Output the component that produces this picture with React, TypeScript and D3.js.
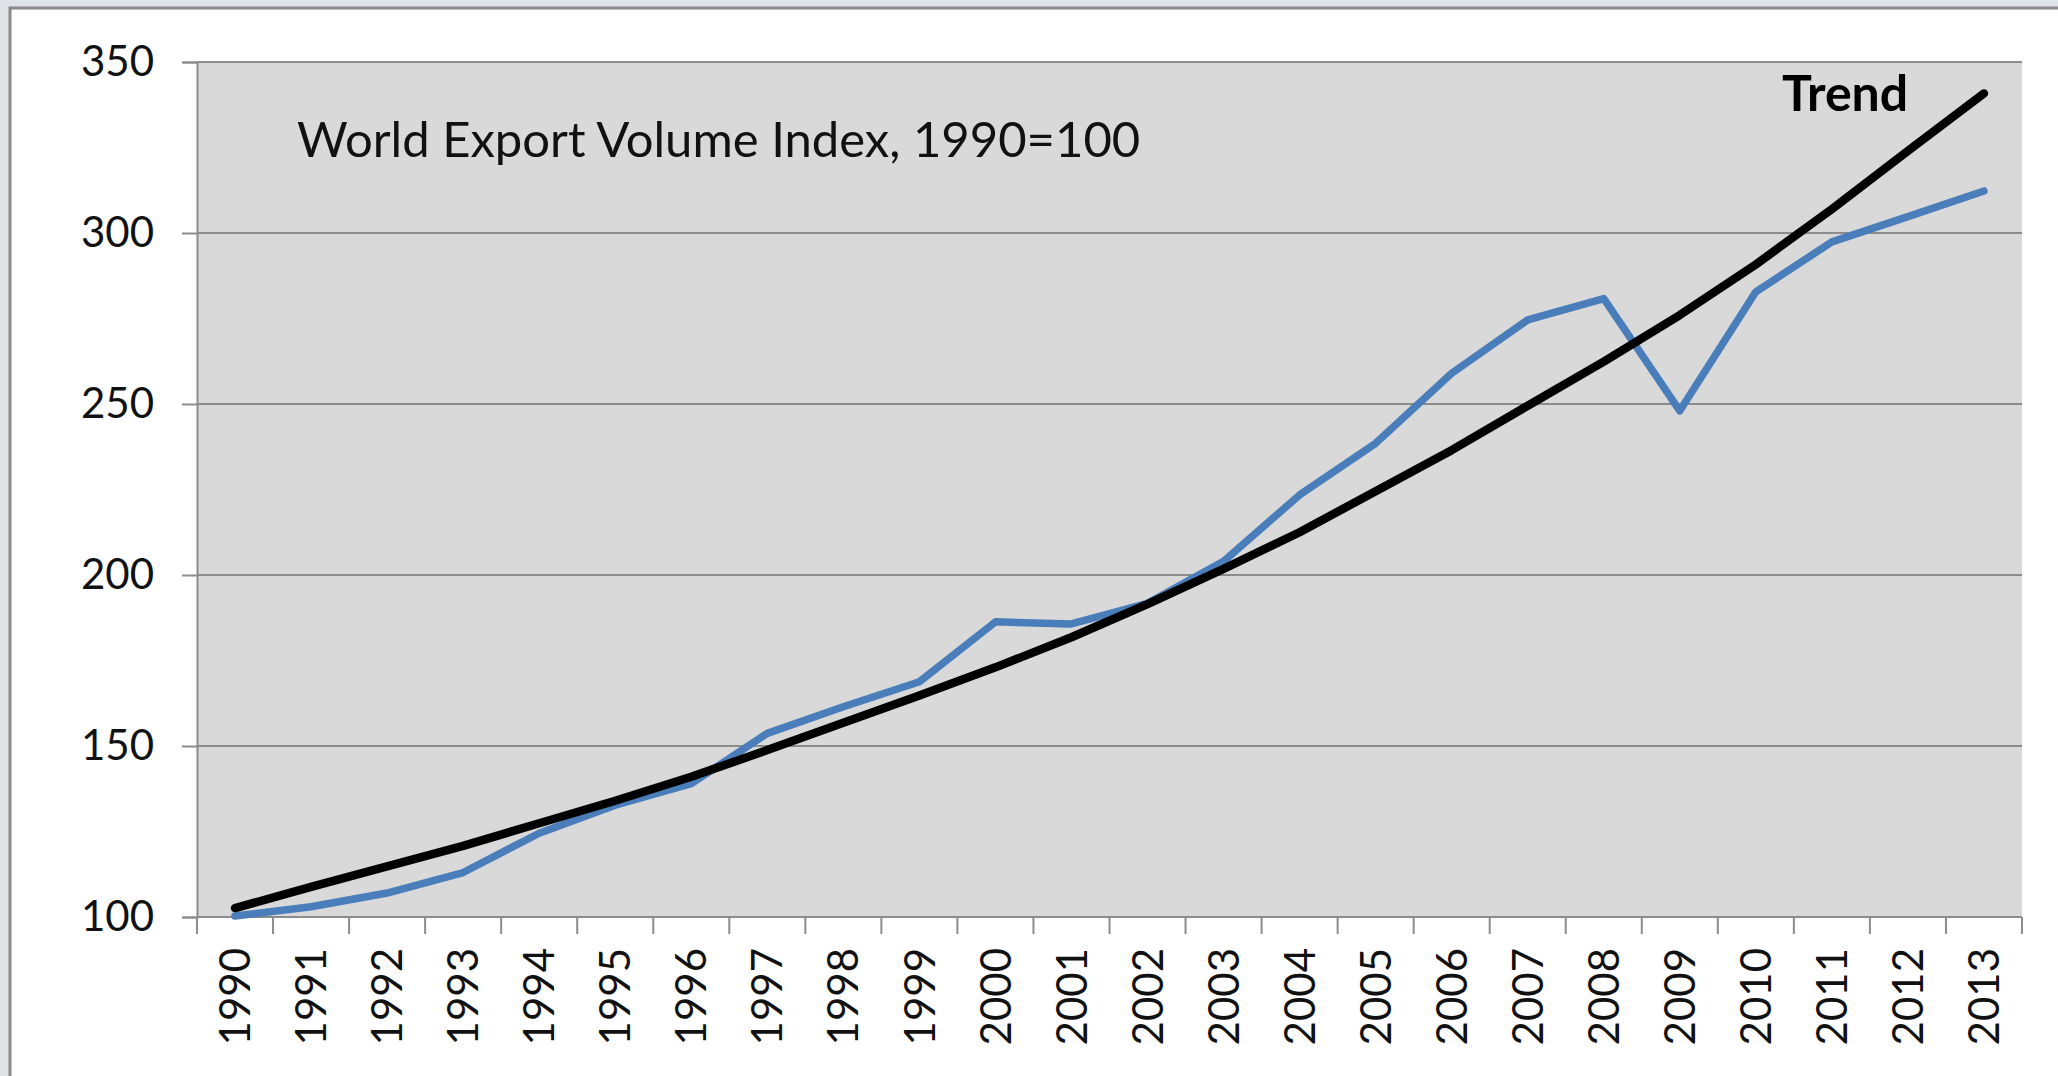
import * as d3 from 'd3';
import { useRef, useEffect } from 'react';

// --- Data ---
const years = [
  '1990', '1991', '1992', '1993', '1994', '1995', '1996', '1997',
  '1998', '1999', '2000', '2001', '2002', '2003', '2004', '2005',
  '2006', '2007', '2008', '2009', '2010', '2011', '2012', '2013',
];
const exportIndex = [
  100.3, 103, 107, 113, 124.5, 132.7, 139, 153.7,
  161.5, 168.8, 186.3, 185.7, 191.7, 204, 223.4, 238.5,
  259, 274.6, 280.8, 248, 282.8, 297.4, 304.8, 312.3,
];
const trend = [
  102.6, 108.8, 114.8, 120.8, 127.4, 134, 141, 148.8,
  156.8, 164.8, 173, 181.8, 191.5, 201.8, 212.5, 224.5,
  236.5, 249.5, 262.4, 276, 290.8, 307, 324, 340.8,
];
const yTicks = [100, 150, 200, 250, 300, 350];
const title = 'World Export Volume Index, 1990=100';
const trendLabel = 'Trend';

export default function App() {
  const ref = useRef<SVGSVGElement>(null);

  useEffect(() => {
    // --- Chart Dimensions ---
    const width = 2058;
    const height = 1076;
    const plotLeft = 197;
    const plotRight = 2022;
    const plotTop = 62;
    const plotBottom = 917;
    const font = "Lato, 'Open Sans', sans-serif";
    const gridColor = '#8c8c8c';

    // --- Scales ---
    const x = d3.scaleBand<string>()
      .domain(years)
      .range([plotLeft, plotRight])
      .padding(0);

    const y = d3.scaleLinear()
      .domain([100, 350])
      .range([plotBottom, plotTop]);

    const cx = (d: string) => (x(d) ?? 0) + x.bandwidth() / 2;

    // --- SVG Setup ---
    const svg = d3.select(ref.current)
      .attr('width', width)
      .attr('height', height)
      .attr('viewBox', `0 0 ${width} ${height}`)
      .style('font-family', font);

    svg.selectAll('*').remove();

    // window frame
    svg.append('rect')
      .attr('width', width).attr('height', height)
      .attr('fill', '#dfe3e8');
    svg.append('rect')
      .attr('x', 10).attr('y', 8)
      .attr('width', width + 50).attr('height', height + 50)
      .attr('fill', '#ffffff')
      .attr('stroke', '#8a8a8a')
      .attr('stroke-width', 3);

    // plot background
    svg.append('rect')
      .attr('x', plotLeft).attr('y', plotTop)
      .attr('width', plotRight - plotLeft).attr('height', plotBottom - plotTop)
      .attr('fill', '#d9d9d9');

    // --- Y axis with gridlines ---
    svg.append('g')
      .attr('transform', `translate(${plotLeft},0)`)
      .call(d3.axisLeft(y).tickValues(yTicks).tickSize(15).tickPadding(28).tickFormat(d3.format('d')))
      .call(g => g.select('.domain').attr('stroke', gridColor).attr('stroke-width', 2))
      .call(g => g.selectAll('.tick line').attr('stroke', gridColor).attr('stroke-width', 2))
      .call(g => g.selectAll('.tick text')
        .attr('fill', '#111')
        .style('font-size', '42px')
        .style('font-family', font));

    svg.append('g')
      .selectAll('line')
      .data(yTicks)
      .join('line')
        .attr('x1', plotLeft).attr('x2', plotRight)
        .attr('y1', d => y(d)).attr('y2', d => y(d))
        .attr('stroke', gridColor)
        .attr('stroke-width', 2);

    // --- X axis (ticks between categories) ---
    const xAxis = svg.append('g');
    xAxis.append('line')
      .attr('x1', plotLeft).attr('x2', plotRight)
      .attr('y1', plotBottom).attr('y2', plotBottom)
      .attr('stroke', gridColor).attr('stroke-width', 2);

    const tickXs = years.map(d => x(d) ?? 0).concat([plotRight]);
    xAxis.selectAll('line.tick')
      .data(tickXs)
      .join('line')
        .attr('class', 'tick')
        .attr('x1', d => d).attr('x2', d => d)
        .attr('y1', plotBottom).attr('y2', plotBottom + 17)
        .attr('stroke', gridColor).attr('stroke-width', 2);

    xAxis.selectAll('text')
      .data(years)
      .join('text')
        .attr('transform', d => `translate(${cx(d)},${plotBottom + 31}) rotate(-90)`)
        .attr('text-anchor', 'end')
        .attr('dy', '0.36em')
        .attr('fill', '#111')
        .style('font-size', '42px')
        .text(d => d);

    // --- Lines ---
    const line = d3.line<number>()
      .x((_, i) => cx(years[i]))
      .y(d => y(d));

    svg.append('path')
      .datum(exportIndex)
      .attr('d', line)
      .attr('fill', 'none')
      .attr('stroke', '#4a7ebb')
      .attr('stroke-width', 7.5)
      .attr('stroke-linejoin', 'round')
      .attr('stroke-linecap', 'round');

    svg.append('path')
      .datum(trend)
      .attr('d', line)
      .attr('fill', 'none')
      .attr('stroke', '#000')
      .attr('stroke-width', 8.5)
      .attr('stroke-linejoin', 'round')
      .attr('stroke-linecap', 'round');

    // --- Labels ---
    svg.append('text')
      .attr('x', 297).attr('y', 157)
      .attr('fill', '#111')
      .style('font-size', '49px')
      .text(title);

    svg.append('text')
      .attr('x', 1782).attr('y', 111)
      .attr('fill', '#000')
      .style('font-size', '50px')
      .style('font-weight', 'bold')
      .text(trendLabel);
  }, []);

  return (
    <div style={{ position: 'absolute', left: 0, top: 0, overflow: 'hidden' }}>
      <svg ref={ref} style={{ display: 'block' }}></svg>
    </div>
  );
}
